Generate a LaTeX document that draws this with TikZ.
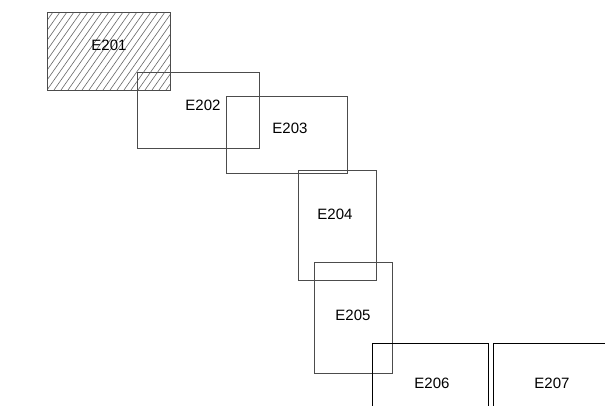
\documentclass[tikz,border=0pt]{standalone}
\usepackage{fontspec}
\setmainfont{Liberation Sans}
\begin{document}
\begin{tikzpicture}[x=1pt,y=-1pt,
  box/.style={draw=black!70, line width=1pt, inner sep=0pt, outer sep=0pt, anchor=north west, rectangle},
  darkbox/.style={box, draw=black},
  lbl/.style={font=\fontsize{15}{18}\selectfont, inner sep=0pt},
  hatch/.style={draw=black!60, line width=0.6pt}]
\clip (0,0) rectangle (605,405);
\useasboundingbox (0,0) rectangle (605,405);
% hatching of E201
\begin{scope}
  \clip (47,12) rectangle (170,90);
  \foreach \i in {-9,...,19} \draw[hatch] (47+\i*7,90) -- ++(55,-78);
\end{scope}
\node[box, minimum width=123pt, minimum height=78pt] (e201) at (47,12) {};
\node[box, minimum width=122pt, minimum height=76pt] (e202) at (137,72) {};
\node[box, minimum width=121pt, minimum height=77pt] (e203) at (226,96) {};
\node[box, minimum width=78pt, minimum height=110pt] (e204) at (298,170) {};
\node[box, minimum width=78pt, minimum height=111pt] (e205) at (314,262) {};
\node[darkbox, minimum width=116pt, minimum height=80pt] (e206) at (372,343) {};
\node[darkbox, minimum width=130pt, minimum height=80pt] (e207) at (493,343) {};
\node[lbl] (l201) at (109,45) {E201};
\node[lbl] (l202) at (203,105) {E202};
\node[lbl] (l203) at (290,128) {E203};
\node[lbl] (l204) at (335,214) {E204};
\node[lbl] (l205) at (353,315) {E205};
\node[lbl] (l206) at (432,383) {E206};
\node[lbl] (l207) at (552,383) {E207};
\end{tikzpicture}
\end{document}
